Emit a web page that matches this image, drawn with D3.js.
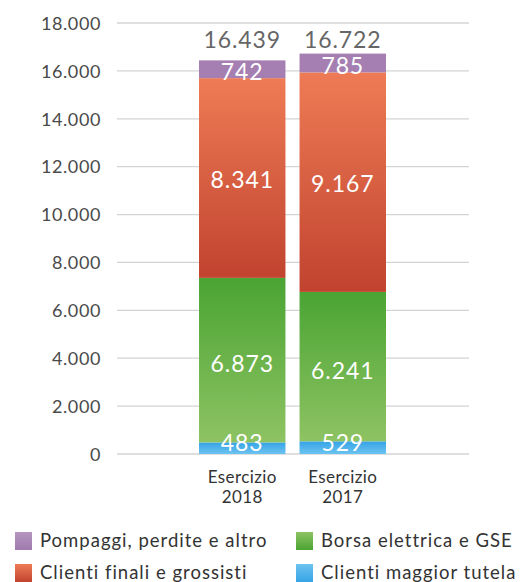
<!DOCTYPE html>
<html><head><meta charset="utf-8">
<script src="https://cdn.jsdelivr.net/npm/d3@7"></script>
<style>body{margin:0;background:#fff}svg{display:block}text{font-family:Lato,"Open Sans",sans-serif}</style>
</head><body><svg id="c" width="526" height="582"></svg>
<script>
const categories = ["Esercizio 2018", "Esercizio 2017"];
const seriesNames = ["Clienti maggior tutela", "Borsa elettrica e GSE", "Clienti finali e grossisti", "Pompaggi, perdite e altro"];
const maggiorTutela = [483, 529];
const borsa = [6873, 6241];
const clientiFinali = [8341, 9167];
const pompaggi = [742, 785];
const totals = [16439, 16722];
const yTicks = [0, 2000, 4000, 6000, 8000, 10000, 12000, 14000, 16000, 18000];
const legendOrder = ["Pompaggi, perdite e altro", "Borsa elettrica e GSE", "Clienti finali e grossisti", "Clienti maggior tutela"];

const svg = d3.select("#c");
const fmt = v => d3.format(",")(v).replace(/,/g, ".");
const y = d3.scaleLinear().domain([0, 18000]).range([454, 23]);
const x = d3.scaleBand().domain(categories).range([199, 386]).paddingInner(0.14).paddingOuter(0);

const defs = svg.append("defs");
function grad(id, c1, c2) {
  const g = defs.append("linearGradient").attr("id", id).attr("x1", 0).attr("y1", 0).attr("x2", 0).attr("y2", 1);
  g.append("stop").attr("offset", "0%").attr("stop-color", c1);
  g.append("stop").attr("offset", "100%").attr("stop-color", c2);
}
grad("g0", "#36a3e6", "#6cc3f0");
grad("g1", "#4aa433", "#8ec363");
grad("g2", "#ee7b55", "#c1432f");
grad("g3", "#a67fb2", "#a67fb2");
grad("l0", "#6cc3f0", "#36a3e6");
grad("l1", "#8ec363", "#4aa433");
grad("l2", "#ee7b55", "#c1432f");
grad("l3", "#b596c0", "#a07aad");
const fills = {"Clienti maggior tutela":"g0","Borsa elettrica e GSE":"g1","Clienti finali e grossisti":"g2","Pompaggi, perdite e altro":"g3"};
const legFills = {"Clienti maggior tutela":"l0","Borsa elettrica e GSE":"l1","Clienti finali e grossisti":"l2","Pompaggi, perdite e altro":"l3"};

// grid
svg.append("g").selectAll("line").data(yTicks).join("line")
  .attr("x1", 117).attr("x2", 469).attr("y1", d => y(d)).attr("y2", d => y(d))
  .attr("stroke", "#d4d4d4").attr("stroke-width", 1.3);

// y axis labels
const yAxis = d3.axisLeft(y).tickValues(yTicks).tickFormat(fmt).tickSize(0).tickPadding(0);
const ya = svg.append("g").attr("transform", "translate(101,0)").call(yAxis);
ya.select(".domain").remove();
ya.selectAll("text").attr("fill", "#4a4a4a").style("font-size", "18px").style("letter-spacing", "0.6px").attr("dy", "0.35em");

const table = categories.map((c, i) => ({cat: c, "Clienti maggior tutela": maggiorTutela[i], "Borsa elettrica e GSE": borsa[i], "Clienti finali e grossisti": clientiFinali[i], "Pompaggi, perdite e altro": pompaggi[i]}));
const stack = d3.stack().keys(seriesNames)(table);

const layers = svg.append("g").selectAll("g").data(stack).join("g").attr("fill", d => `url(#${fills[d.key]})`);
layers.selectAll("rect").data(d => d).join("rect")
  .attr("x", d => x(d.data.cat)).attr("width", x.bandwidth())
  .attr("y", d => y(d[1])).attr("height", d => y(d[0]) - y(d[1]));

// value labels
const offsets = {"Clienti maggior tutela": -5, "Borsa elettrica e GSE": 4, "Clienti finali e grossisti": 2, "Pompaggi, perdite e altro": 3};
const labels = svg.append("g");
stack.forEach(layer => {
  layer.forEach(d => {
    labels.append("text")
      .attr("x", x(d.data.cat) + x.bandwidth() / 2)
      .attr("y", (y(d[0]) + y(d[1])) / 2 + offsets[layer.key])
      .attr("dy", "0.35em").attr("text-anchor", "middle")
      .attr("fill", "#fff").style("font-size", "23px").style("letter-spacing", "0.9px")
      .text(fmt(d.data[layer.key]));
  });
});

// totals
svg.append("g").selectAll("text").data(totals).join("text")
  .attr("x", (d, i) => x(categories[i]) + x.bandwidth() / 2)
  .attr("y", y(d3.max(totals)) - 6)
  .attr("text-anchor", "middle").attr("fill", "#666")
  .style("font-size", "23px").style("letter-spacing", "0.9px")
  .text(d => fmt(d));

// x labels
const xl = svg.append("g").selectAll("text").data(categories).join("text")
  .attr("x", d => x(d) + x.bandwidth() / 2).attr("y", 483)
  .attr("text-anchor", "middle").attr("fill", "#333").style("font-size", "17px").style("letter-spacing", "0.4px");
xl.append("tspan").attr("x", d => x(d) + x.bandwidth() / 2).text(d => d.split(" ")[0]);
xl.append("tspan").attr("x", d => x(d) + x.bandwidth() / 2).attr("dy", 20).text(d => d.split(" ")[1]);

// legend
const leg = svg.append("g").selectAll("g").data(legendOrder).join("g")
  .attr("transform", (d, i) => `translate(${i % 2 === 0 ? 15 : 296},${i < 2 ? 532 : 564})`);
leg.append("rect").attr("width", 17).attr("height", 18).attr("fill", d => `url(#${legFills[d]})`);
leg.append("text").attr("x", 25).attr("y", 9).attr("dy", "0.35em").attr("fill", "#333")
  .style("font-size", "18.5px").style("letter-spacing", "1px").text(d => d);
</script></body></html>
